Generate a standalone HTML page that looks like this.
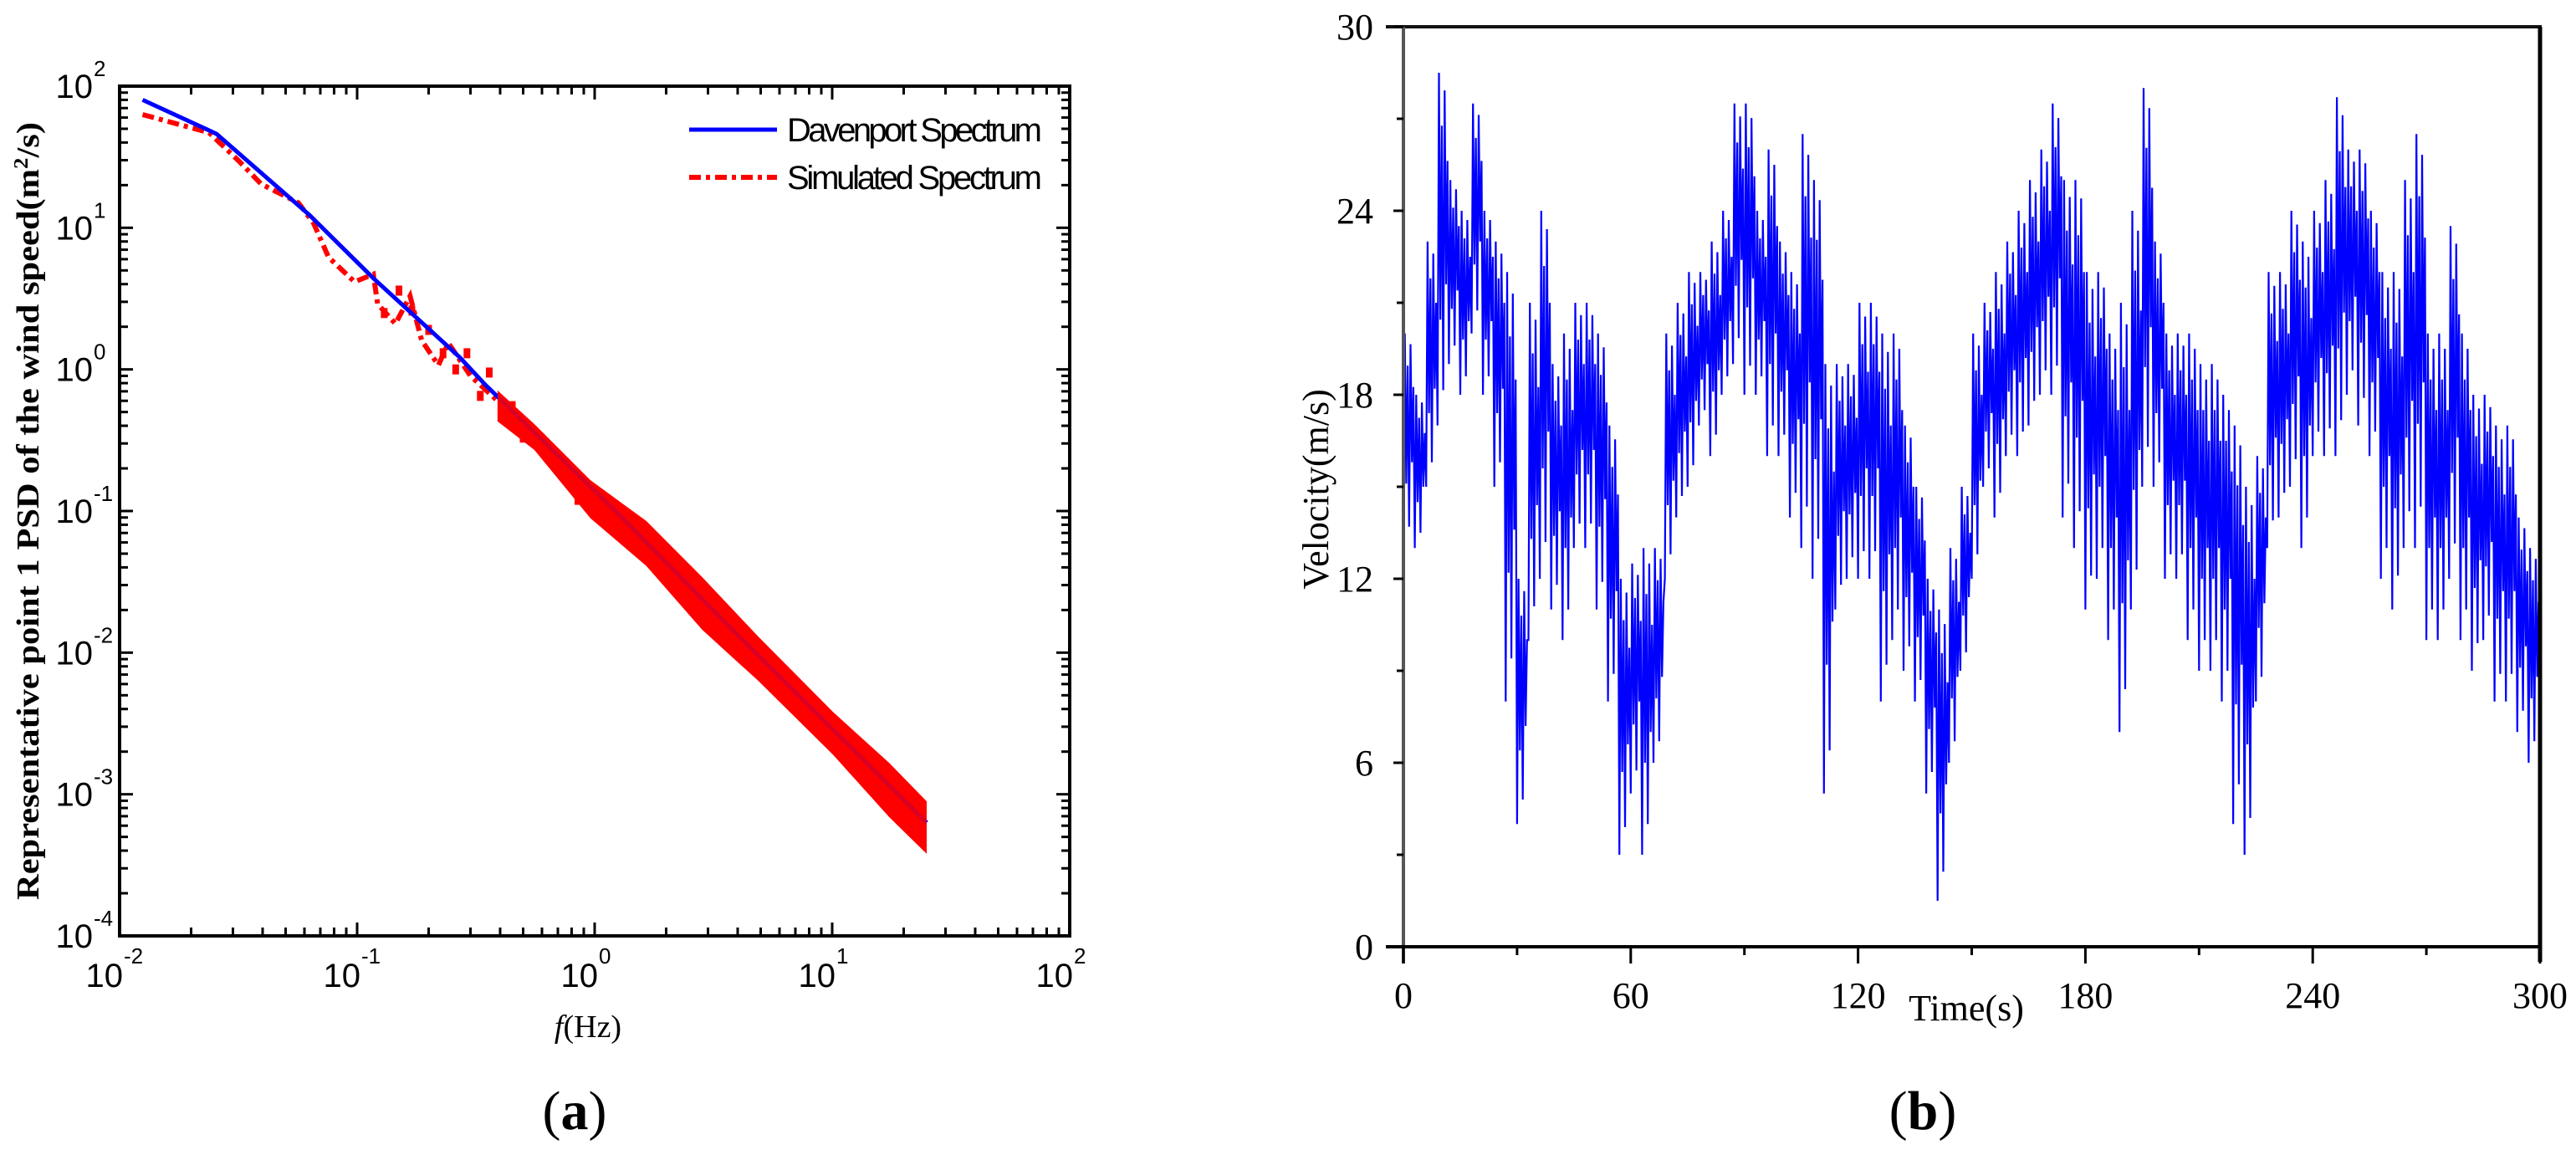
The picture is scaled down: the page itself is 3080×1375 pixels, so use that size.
<!DOCTYPE html>
<html><head><meta charset="utf-8"><style>
html,body{margin:0;padding:0;background:#fff;}
svg{display:block;}
.tk{font-family:"Liberation Sans Narrow","Liberation Sans",sans-serif;font-size:40px;fill:#000;}
.sup{font-family:"Liberation Sans Narrow","Liberation Sans",sans-serif;font-size:26px;fill:#000;}
.srf{font-family:"Liberation Serif",serif;fill:#000;}
</style></head><body>
<svg id="fig" width="3080" height="1375" viewBox="0 0 3080 1375" xmlns="http://www.w3.org/2000/svg">
<g id="pa"></g>
<g id="pb"></g>
</svg>
<script>
// ===== Chart (a) data =====
const xDecades = [-2, -1, 0, 1, 2];
const yDecades = [-4, -3, -2, -1, 0, 1, 2];
const davFreq = [0.0125, 0.0256, 0.063, 0.117, 0.27, 0.346, 1.23, 3.8, 25];
const davPsd  = [80, 46, 12.3, 4.4, 1.22, 0.78, 0.099, 0.0145, 0.00063];
const simFreq = [0.0125, 0.0238, 0.0319, 0.0394, 0.0566, 0.0656, 0.0758, 0.0975, 0.117, 0.122, 0.145, 0.167, 0.187, 0.22, 0.242, 0.3, 0.39];
const simPsd  = [63, 47, 29.4, 20.4, 15, 10.75, 6.2, 4.15, 4.7, 2.9, 2.1, 3.3, 1.6, 1.07, 1.54, 0.9, 0.6];
const bandFreq = [0.39, 0.558, 0.96, 1.65, 2.84, 4.9, 10.1, 17.4, 25];
const bandHigh = [0.71, 0.41, 0.165, 0.085, 0.034, 0.0129, 0.0038, 0.00166, 0.00089];
const bandLow  = [0.43, 0.27, 0.089, 0.041, 0.0145, 0.0063, 0.0019, 0.00069, 0.00038];
const noiseFreq = [0.13, 0.15, 0.17, 0.2, 0.23, 0.26, 0.29, 0.33, 0.36, 0.45, 0.5, 0.62, 0.75, 0.85];
const noisePsd  = [2.5, 3.6, 2.6, 1.9, 1.3, 1.0, 1.3, 0.65, 0.95, 0.55, 0.33, 0.3, 0.2, 0.12];

// ===== Chart (b) data =====
const timeTicks = [0, 60, 120, 180, 240, 300];
const velTicks = [0, 6, 12, 18, 24, 30];
const binStart = [0,3,6,9,12,15,18,21,24,27,30,33,36,39,42,45,48,51,54,57,60,63,66,69,72,75,78,81,84,87,90,93,96,99,102,105,108,111,114,117,120,123,126,129,132,135,138,141,144,147,150,153,156,159,162,165,168,171,174,177,180,183,186,189,192,195,198,201,204,207,210,213,216,219,222,225,228,231,234,237,240,243,246,249,252,255,258,261,264,267,270,273,276,279,282,285,288,291,294,297];
const velLow  = [13,13,15,17,19,18,20,18,15,8,4,10,12,11,10,13,13,11,8,3,5,3,6,12,14,15,17,16,18,19,18,18,16,16,14,13,12,5,11,12,12,12,8,10,9,8,5,1.5,6,9,12,15,14,16,16,17,18,18,14,13,11,12,10,7,11,15,15,12,12,10,9,9,8,4,3,8,13,14,15,13,16,16,16,18,17,16,12,11,13,13,10,10,12,10,9,10,8,8,7,6];
const velHigh = [20,18,23,28.5,25,24,27.5,24,23,22,12,21,24,19,20,21,21,20,17,12,12.5,13,13,20,21,22,22,23,24,27.5,27.5,24,26,23,22,26.5,25,19,19,19,21,21,20,20,17,15,12,11,13,15,20,21,22,23,24,25,26,27.5,25,25,22,22,20,21,24,28,23,20,20,20,19,19,18,17,15,16,22,22,24,23,24,25,27.7,26,26,24,22,22,25,26.5,20,20,23.5,20,18,18,17,17,14,13];

const NS = "http://www.w3.org/2000/svg";
function mk(tag, attrs, parent, txt){
  const e = document.createElementNS(NS, tag);
  for (const k in attrs) e.setAttribute(k, attrs[k]);
  if (txt !== undefined) e.textContent = txt;
  parent.appendChild(e);
  return e;
}

// ===== Chart (a) =====
const A = {x0:143, x1:1279, y0:103, y1:1119};
const ax = f => A.x0 + (Math.log10(f) + 2) / 4 * (A.x1 - A.x0);
const ay = s => A.y1 - (Math.log10(s) + 4) / 6 * (A.y1 - A.y0);
const pa = document.getElementById('pa');

let bp = [];
for (let i = 0; i < bandFreq.length; i++) bp.push(ax(bandFreq[i]).toFixed(1) + ',' + ay(bandHigh[i]).toFixed(1));
for (let i = bandFreq.length - 1; i >= 0; i--) bp.push(ax(bandFreq[i]).toFixed(1) + ',' + ay(bandLow[i]).toFixed(1));
const band = mk('polygon', {points: bp.join(' '), fill: '#ff0000'}, pa);



const sp = simFreq.map((f, i) => ax(f).toFixed(1) + ',' + ay(simPsd[i]).toFixed(1)).join(' ');
const sl = mk('polyline', {points: sp, fill: 'none', stroke: '#ff0000', 'stroke-width': 6, 'stroke-dasharray': '14 6 5 6'}, pa);



for (let i = 0; i < noiseFreq.length; i++) {
  const r = mk('rect', {x: ax(noiseFreq[i]) - 4, y: ay(noisePsd[i]) - 6, width: 8, height: 12, fill: '#ff0000'}, pa);
  
  
}

const dp = davFreq.map((f, i) => ax(f).toFixed(1) + ',' + ay(davPsd[i]).toFixed(1)).join(' ');
const dl = mk('polyline', {points: dp, fill: 'none', stroke: '#0000ff', 'stroke-width': 5}, pa);


const band2 = mk('polygon', {points: bp.join(' '), fill: '#ff0000', opacity: 0.85}, pa);



const fa = mk('rect', {x: A.x0, y: A.y0, width: A.x1 - A.x0, height: A.y1 - A.y0, fill: 'none', stroke: '#000', 'stroke-width': 4}, pa);



for (let d = 0; d < xDecades.length; d++) {
  const base = Math.pow(10, xDecades[d]);
  const x = ax(base);
  if (d > 0 && d < xDecades.length - 1) {
    mk('line', {x1: x, x2: x, y1: A.y1, y2: A.y1 - 16, stroke: '#000', 'stroke-width': 3}, pa);
    mk('line', {x1: x, x2: x, y1: A.y0, y2: A.y0 + 16, stroke: '#000', 'stroke-width': 3}, pa);
  }
  if (d < xDecades.length - 1) for (let m = 2; m <= 9; m++) {
    const xm = ax(base * m);
    mk('line', {x1: xm, x2: xm, y1: A.y1, y2: A.y1 - 10, stroke: '#000', 'stroke-width': 3}, pa);
    mk('line', {x1: xm, x2: xm, y1: A.y0, y2: A.y0 + 10, stroke: '#000', 'stroke-width': 3}, pa);
  }
  const g = mk('g', {}, pa);
  
  
  mk('text', {x: x + 4, y: 1180, 'text-anchor': 'end', class: 'tk'}, g, '10');
  mk('text', {x: x + 5, y: 1152, class: 'sup'}, g, String(xDecades[d]));
}
for (let d = 0; d < yDecades.length; d++) {
  const base = Math.pow(10, yDecades[d]);
  const y = ay(base);
  if (d > 0 && d < yDecades.length - 1) {
    mk('line', {x1: A.x0, x2: A.x0 + 16, y1: y, y2: y, stroke: '#000', 'stroke-width': 3}, pa);
    mk('line', {x1: A.x1, x2: A.x1 - 16, y1: y, y2: y, stroke: '#000', 'stroke-width': 3}, pa);
  }
  if (d < yDecades.length - 1) for (let m = 2; m <= 9; m++) {
    const ym = ay(base * m);
    mk('line', {x1: A.x0, x2: A.x0 + 10, y1: ym, y2: ym, stroke: '#000', 'stroke-width': 3}, pa);
    mk('line', {x1: A.x1, x2: A.x1 - 10, y1: ym, y2: ym, stroke: '#000', 'stroke-width': 3}, pa);
  }
  const g = mk('g', {}, pa);
  
  
  mk('text', {x: 111, y: y + 14, 'text-anchor': 'end', class: 'tk'}, g, '10');
  mk('text', {x: 112, y: y - 12, class: 'sup'}, g, String(yDecades[d]));
}
const lg = mk('g', {}, pa);


mk('line', {x1: 824, x2: 929, y1: 155, y2: 155, stroke: '#0000ff', 'stroke-width': 5}, lg);
mk('text', {x: 941, y: 169, class: 'tk', 'font-size': 38, textLength: 305}, lg, 'Davenport Spectrum');
mk('line', {x1: 824, x2: 929, y1: 212, y2: 212, stroke: '#ff0000', 'stroke-width': 6, 'stroke-dasharray': '14 6 5 6'}, lg);
mk('text', {x: 941, y: 226, class: 'tk', 'font-size': 38, textLength: 305}, lg, 'Simulated Spectrum');
const yt = mk('text', {x: 0, y: 0, class: 'srf', 'font-size': 38, 'font-weight': 'bold', 'text-anchor': 'middle', transform: 'translate(46,611) rotate(-90)', textLength: 930, lengthAdjust: 'spacingAndGlyphs'}, pa);


yt.innerHTML = 'Representative point 1 PSD of the wind speed(m<tspan baseline-shift="super" font-size="24">2</tspan>/s)';
const xt = mk('text', {x: 703, y: 1240, class: 'srf', 'font-size': 38, 'text-anchor': 'middle'}, pa);


xt.innerHTML = '<tspan font-style="italic">f</tspan>(Hz)';
const ca = mk('text', {x: 687, y: 1350, class: 'srf', 'font-size': 66, 'text-anchor': 'middle'}, pa);


ca.innerHTML = '(<tspan font-weight="bold">a</tspan>)';

// ===== Chart (b) =====
const B = {x0:1678, x1:3037, y0:32, y1:1132};
const bx = t => B.x0 + t / 300 * (B.x1 - B.x0);
const by = v => B.y1 - v / 30 * (B.y1 - B.y0);
const pb = document.getElementById('pb');

// dense oscillation between each bin's low and high
const fracs = [0, 0.125, 0.25, 0.375, 0.5, 0.625, 0.75, 0.875];
const levels = [0, 1, 0.3, 0.85, 0.1, 0.95, 0.4, 0.75];
let vp = [];
for (let i = 0; i < binStart.length; i++) {
  for (let k = 0; k < fracs.length; k++) {
    const v = velLow[i] + levels[k] * (velHigh[i] - velLow[i]);
    vp.push(bx(binStart[i] + 3 * fracs[k]).toFixed(1) + ',' + by(v).toFixed(1));
  }
}
const vl = mk('polyline', {points: vp.join(' '), fill: 'none', stroke: '#0000ff', 'stroke-width': 2.2}, pb);



mk('line', {x1: 1657, x2: B.x1 + 2, y1: B.y0, y2: B.y0, stroke: '#111', 'stroke-width': 4}, pb);
mk('line', {x1: B.x1, x2: B.x1, y1: B.y0, y2: B.y1 + 18, stroke: '#000', 'stroke-width': 5}, pb);
mk('line', {x1: B.x0, x2: B.x0, y1: B.y0, y2: B.y1 + 20, stroke: '#555', 'stroke-width': 4}, pb);
mk('line', {x1: 1657, x2: B.x1, y1: B.y1, y2: B.y1, stroke: '#000', 'stroke-width': 4}, pb);
for (let i = 0; i < timeTicks.length; i++) {
  const x = bx(timeTicks[i]);
  mk('line', {x1: x, x2: x, y1: B.y1, y2: B.y1 + 20, stroke: '#000', 'stroke-width': 3}, pb);
  if (i < timeTicks.length - 1) {
    const xm = bx(timeTicks[i] + 30);
    mk('line', {x1: xm, x2: xm, y1: B.y1, y2: B.y1 + 10, stroke: '#000', 'stroke-width': 3}, pb);
  }
  const t = mk('text', {x: x, y: 1205, class: 'srf', 'font-size': 44, 'text-anchor': 'middle'}, pb, String(timeTicks[i]));
  
  
}
for (let i = 0; i < velTicks.length; i++) {
  const y = by(velTicks[i]);
  mk('line', {x1: B.x0 - 12, x2: B.x0, y1: y, y2: y, stroke: '#000', 'stroke-width': 3}, pb);
  if (i < velTicks.length - 1) {
    const ym = by(velTicks[i] + 3);
    mk('line', {x1: B.x0 - 8, x2: B.x0, y1: ym, y2: ym, stroke: '#000', 'stroke-width': 3}, pb);
  }
  const t = mk('text', {x: 1642, y: y + 15, class: 'srf', 'font-size': 44, 'text-anchor': 'end'}, pb, String(velTicks[i]));
  
  
}
const byt = mk('text', {x: 0, y: 0, class: 'srf', 'font-size': 44, 'text-anchor': 'middle', transform: 'translate(1588,585) rotate(-90)'}, pb, 'Velocity(m/s)');


const bxt = mk('text', {x: 2351, y: 1220, class: 'srf', 'font-size': 44, 'text-anchor': 'middle'}, pb, 'Time(s)');


const cb = mk('text', {x: 2299, y: 1350, class: 'srf', 'font-size': 66, 'text-anchor': 'middle'}, pb);


cb.innerHTML = '(<tspan font-weight="bold">b</tspan>)';
</script>
</body></html>
